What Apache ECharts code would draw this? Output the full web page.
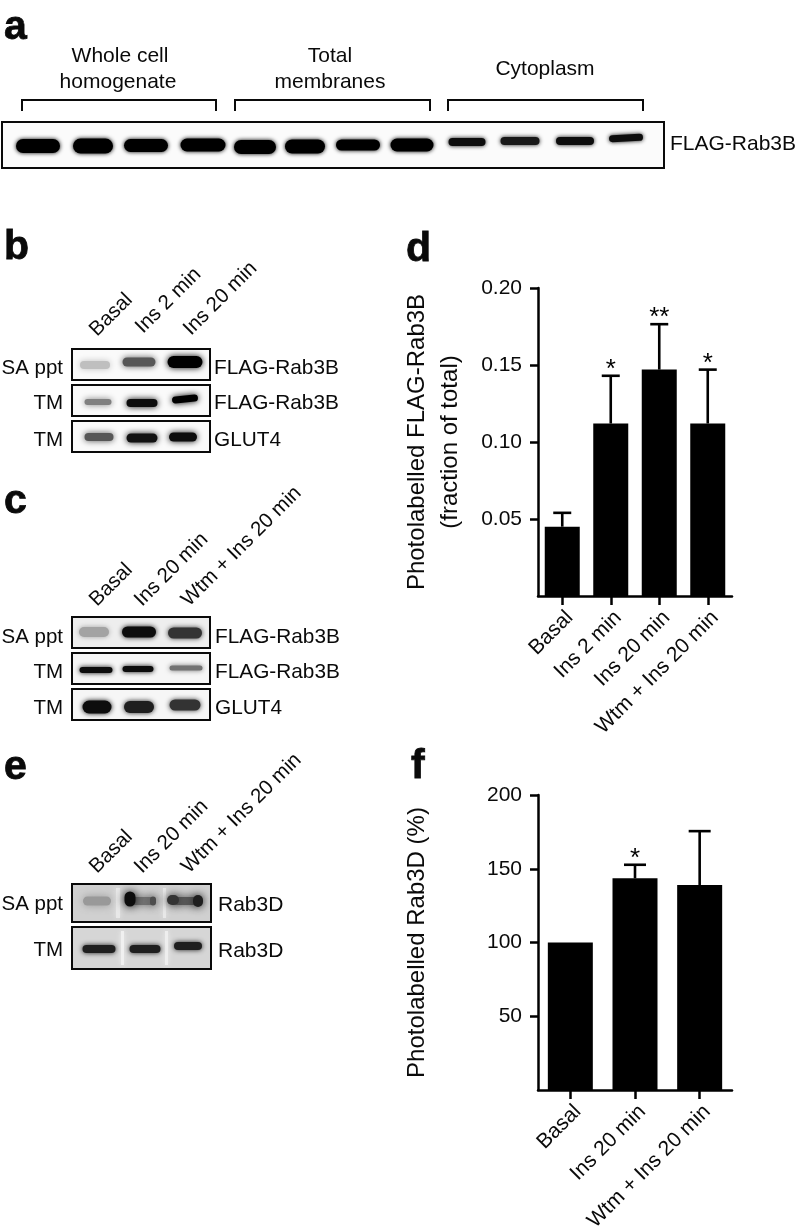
<!DOCTYPE html>
<html>
<head>
<meta charset="utf-8">
<style>html,body{margin:0;padding:0;background:#fff}#c{width:798px;height:1232px}</style>
<script src="https://cdn.jsdelivr.net/npm/echarts@6/dist/echarts.min.js"></script>
</head>
<body>
<div id="c"></div>
<script>
// ---- chart data ----
var categoriesD = ['Basal', 'Ins 2 min', 'Ins 20 min', 'Wtm + Ins 20 min'];
var valuesD = [0.045, 0.112, 0.147, 0.112];
var errorTopsD = [0.054, 0.143, 0.1765, 0.147];
var starsD = ['', '*', '**', '*'];
var ticksD = [0.05, 0.10, 0.15, 0.20];

var categoriesF = ['Basal', 'Ins 20 min', 'Wtm + Ins 20 min'];
var valuesF = [100, 143.5, 139];
var errorTopsF = [null, 152.7, 175.5];
var starsF = ['', '*', ''];
var ticksF = [50, 100, 150, 200];

// ---- blot band densities (0 = white, 1 = black) ----
var densityA = [1, 1, 1, 1, 1, 1, 1, 1, 0.95, 0.9, 0.95, 0.95];
var densityB = [[0.25, 0.66, 1], [0.5, 0.95, 1], [0.66, 0.93, 0.95]];
var densityC = [[0.36, 0.95, 0.8], [0.95, 0.95, 0.55], [0.95, 0.88, 0.8]];
var densityE = [[0.4, 0.55, 0.65, 0.95, 0.7, 0.8, 0.88], [0.88, 0.88, 0.88]];

var lanesA = ['Whole cell\nhomogenate', 'Total\nmembranes', 'Cytoplasm'];
var lanesB = ['Basal', 'Ins 2 min', 'Ins 20 min'];
var lanesC = ['Basal', 'Ins 20 min', 'Wtm + Ins 20 min'];
var rowLabelsB = ['SA ppt', 'TM', 'TM'];
var proteinB = ['FLAG-Rab3B', 'FLAG-Rab3B', 'GLUT4'];
var rowLabelsE = ['SA ppt', 'TM'];
var proteinE = ['Rab3D', 'Rab3D'];

// ---- drawing helpers ----
var FONT = '"Liberation Sans", Arimo, Helvetica, Arial, sans-serif';
var INK = '#0a0a0a';
var g = [];
function grey(d) { var v = Math.round(255 * (1 - d)); return 'rgb(' + v + ',' + v + ',' + v + ')'; }
function text(t, x, y, opt) {
  opt = opt || {};
  g.push({ type: 'text', x: x, y: y, rotation: opt.rot || 0, z: 10, silent: true, style: {
    text: t, x: 0, y: 0, fill: INK, align: opt.align || 'left', verticalAlign: 'middle',
    stroke: opt.bold ? INK : null, lineWidth: opt.bold ? 0.8 : 0,
    font: (opt.bold ? 'bold ' : '') + (opt.size || 21) + 'px ' + FONT
  }});
}
function frame(x, y, w, h, bg) {
  g.push({ type: 'rect', z: 1, silent: true, shape: { x: x, y: y, width: w, height: h }, style: { fill: bg || '#fafafa' } });
  g.push({ type: 'rect', z: 5, silent: true, shape: { x: x, y: y, width: w, height: h }, style: { fill: 'none', stroke: INK, lineWidth: 2 } });
}
function band(cx, cy, w, h, d, rot, blur) {
  var c = grey(d);
  g.push({ type: 'rect', z: 3, silent: true, x: cx, y: cy, rotation: rot || 0,
    shape: { x: -w / 2 + 1, y: -h / 2, width: w - 2, height: h, r: h / 2 },
    style: { fill: c, shadowColor: c, shadowBlur: blur == null ? 6 : blur } });
}
function patch(x, y, w, h, c) {
  g.push({ type: 'rect', z: 2, silent: true, shape: { x: x, y: y, width: w, height: h },
    style: { fill: c, shadowColor: c, shadowBlur: 5 } });
}
function bracket(x1, x2, y1, y2) {
  g.push({ type: 'polyline', z: 4, silent: true, shape: { points: [[x1, y2], [x1, y1], [x2, y1], [x2, y2]] },
    style: { fill: 'none', stroke: INK, lineWidth: 2 } });
}
var R45 = Math.PI / 4;

// ---- panel letters ----
[['a', 4, 28], ['b', 4, 248], ['c', 4, 502], ['d', 406, 250], ['e', 4, 768], ['f', 411, 767]].forEach(function (p) {
  text(p[0], p[1], p[2], { bold: true, size: 41 });
});

// ---- panel a ----
text('Whole cell', 120, 56, { align: 'center' });
text('homogenate', 118, 82, { align: 'center' });
text('Total', 330, 56, { align: 'center' });
text('membranes', 330, 82, { align: 'center' });
text(lanesA[2], 545, 69, { align: 'center' });
bracket(22, 216, 100, 111); bracket(235, 430, 100, 111); bracket(448, 643, 100, 111);
frame(2, 122, 662, 46, '#fbfbfb');
[[38, 146, 46, 14], [93, 146, 42, 15], [146, 145.5, 46, 13], [203, 145, 47, 13], [255, 147, 44, 14], [305, 146.5, 42, 14],
 [358, 145, 46, 11], [412, 145, 45, 13], [467, 142, 39, 8], [520, 141, 41, 8], [575, 141, 40, 8], [626, 138, 36, 7]].forEach(function (b, i) {
  band(b[0], b[1], b[2], b[3], densityA[i], i === 11 ? 0.05 : 0, 4);
});
text('FLAG-Rab3B', 670, 144);

// ---- panel b ----
[[93, 333], [139, 330], [187, 332]].forEach(function (p, i) { text(lanesB[i], p[0], p[1], { rot: R45, size: 20.5 }); });
var rowsB = [[349, 31, 368, 368], [385, 31, 403, 403], [421, 31, 440, 440]];
rowsB.forEach(function (r, i) {
  frame(72, r[0], 138, r[1]);
  text(rowLabelsB[i], 63, r[2], { align: 'right', size: 20.5 });
  text(proteinB[i], 214, r[3], { size: 20.8 });
});
[[[95, 365, 32, 8], [139, 362, 35, 9], [185, 362, 37, 12]],
 [[98, 402, 29, 6], [142, 403, 33, 8], [185, 399, 28, 7, 0.1]],
 [[99, 437, 31, 8], [142, 438, 33, 9], [183, 437, 30, 9]]].forEach(function (row, i) {
  row.forEach(function (b, j) { band(b[0], b[1], b[2], b[3], densityB[i][j], b[4]); });
});

// ---- panel c ----
[[93, 603], [138, 603], [185, 603]].forEach(function (p, i) { text(lanesC[i], p[0], p[1], { rot: R45, size: 20.5 }); });
var rowsC = [[617, 31, 637, 637], [653, 31, 672, 672], [689, 31, 708, 708]];
rowsC.forEach(function (r, i) {
  frame(72, r[0], 138, r[1], i === 0 ? '#eeeeee' : '#f6f6f6');
  text(rowLabelsB[i], 63, r[2], { align: 'right', size: 20.5 });
  text(proteinB[i], 215, r[3], { size: 20.8 });
});
[[[94, 632, 32, 10], [139, 632, 36, 11], [185, 633, 36, 11]],
 [[96, 670, 35, 6], [138, 669, 33, 6], [186, 668, 35, 5]],
 [[97, 707, 31, 13], [139, 707, 32, 12], [185, 705, 33, 11]]].forEach(function (row, i) {
  row.forEach(function (b, j) { band(b[0], b[1], b[2], b[3], densityC[i][j], 0, 5); });
});

// ---- panel e ----
[[93, 870], [138, 870], [185, 870]].forEach(function (p, i) { text(lanesC[i], p[0], p[1], { rot: R45, size: 20.5 }); });
frame(72, 884, 139, 38, '#d0d0d0');
frame(72, 927, 139, 42, '#d6d6d6');
patch(116, 888, 4, 30, '#e8e8e8'); patch(163, 888, 3, 30, '#e8e8e8');
patch(121, 931, 3, 34, '#f0f0f0'); patch(165, 931, 3, 34, '#eeeeee');
text(rowLabelsE[0], 63, 904, { align: 'right', size: 20.5 });
text(rowLabelsE[1], 63, 950, { align: 'right', size: 20.5 });
text(proteinE[0], 218, 905);
text(proteinE[1], 218, 951);
[[97, 901, 30, 9], [142, 901, 28, 8], [186, 901, 28, 8], [130, 899, 13, 15], [153, 901, 8, 9], [173, 900, 14, 10], [198, 901, 12, 12]].forEach(function (b, i) {
  band(b[0], b[1], b[2], b[3], densityE[0][i], 0, 8);
});
[[99, 949, 35, 8], [145, 949, 33, 8], [188, 946, 30, 8]].forEach(function (b, i) {
  band(b[0], b[1], b[2], b[3], densityE[1][i], 0, 5);
});

// ---- bar charts ----
function errorSeries(xi, yi, tops, vals, stars, cap) {
  return {
    type: 'custom', xAxisIndex: xi, yAxisIndex: yi, z: 5, silent: true, clip: false,
    data: tops.map(function (t, i) { return [i, t, vals[i]]; }),
    encode: { x: 0, y: 1 },
    renderItem: function (params, api) {
      var kids = [];
      var i = api.value(0);
      var star = stars[i];
      if (tops[i] == null) return { type: 'group', children: [] };
      var top = api.coord([i, tops[i]]);
      var base = api.coord([i, vals[i]]);
      var st = { stroke: '#000', lineWidth: 2.6, fill: 'none' };
      kids.push({ type: 'line', shape: { x1: top[0], y1: base[1], x2: top[0], y2: top[1] }, style: st });
      kids.push({ type: 'line', shape: { x1: top[0] - cap / 2, y1: top[1], x2: top[0] + cap / 2, y2: top[1] }, style: st });
      if (star) kids.push({ type: 'text', x: top[0], y: top[1] - 6, style: {
        text: star, fill: '#000', align: 'center', verticalAlign: 'middle', font: '26px ' + FONT } });
      return { type: 'group', children: kids };
    }
  };
}
function xAxisOf(gi, cats) {
  return {
    type: 'category', gridIndex: gi, data: cats,
    axisLine: { show: true, onZero: false, lineStyle: { color: '#000', width: 2.5 } },
    axisTick: { show: true, alignWithLabel: true, length: 9, lineStyle: { color: '#000', width: 2.5 } },
    axisLabel: { rotate: 45, interval: 0, margin: 11, fontSize: 21, color: INK, fontFamily: FONT, verticalAlign: 'top' }
  };
}
function yAxisOf(gi, max, step, ticks, name, gap, fmt) {
  return {
    type: 'value', gridIndex: gi, min: 0, max: max, interval: step,
    name: name, nameLocation: 'middle', nameGap: gap, nameRotate: 90,
    nameTextStyle: { fontSize: 24, color: INK, fontFamily: FONT, lineHeight: 33 },
    splitLine: { show: false },
    axisLine: { show: true, lineStyle: { color: '#000', width: 2.5 } },
    axisTick: { show: true, length: 8, customValues: ticks, lineStyle: { color: '#000', width: 2.5 } },
    axisLabel: { margin: 16, fontSize: 21, color: INK, fontFamily: FONT, customValues: ticks, formatter: fmt }
  };
}
var option = {
  animation: false,
  backgroundColor: '#fff',
  grid: [
    { left: 538, top: 288, width: 194, height: 308, containLabel: false, outerBoundsMode: 'none' },
    { left: 538, top: 795, width: 194, height: 295, containLabel: false, outerBoundsMode: 'none' }
  ],
  xAxis: [xAxisOf(0, categoriesD), xAxisOf(1, categoriesF)],
  yAxis: [
    yAxisOf(0, 0.2, 0.05, ticksD, 'Photolabelled FLAG-Rab3B\n(fraction of total)', 71, function (v) { return v.toFixed(2); }),
    yAxisOf(1, 200, 50, ticksF, 'Photolabelled Rab3D (%)', 104, function (v) { return String(v); })
  ],
  series: [
    { type: 'bar', xAxisIndex: 0, yAxisIndex: 0, data: valuesD, barWidth: 35, itemStyle: { color: '#000' }, silent: true },
    errorSeries(0, 0, errorTopsD, valuesD, starsD, 18),
    { type: 'bar', xAxisIndex: 1, yAxisIndex: 1, data: valuesF, barWidth: 45, itemStyle: { color: '#000' }, silent: true },
    errorSeries(1, 1, errorTopsF, valuesF, starsF, 22)
  ],
  graphic: { elements: g }
};
echarts.init(document.getElementById('c'), null, { renderer: 'canvas' }).setOption(option);
</script>
</body>
</html>
